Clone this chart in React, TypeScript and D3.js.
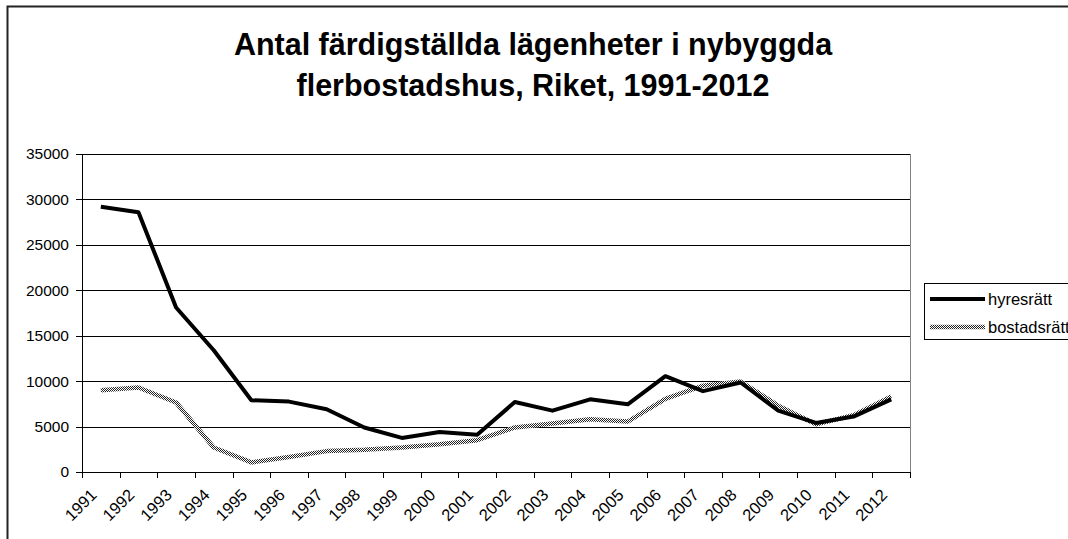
import React from "react";
import * as d3 from "d3";

const years = ["1991","1992","1993","1994","1995","1996","1997","1998","1999","2000","2001","2002","2003","2004","2005","2006","2007","2008","2009","2010","2011","2012"];
const hyresratt = [29200,28600,18100,13400,7900,7750,6900,4900,3750,4400,4100,7700,6750,8000,7450,10550,8900,9850,6750,5400,6100,8000];
const bostadsratt = [9000,9300,7650,2700,1050,1650,2300,2450,2700,3050,3500,4900,5350,5800,5550,8050,9500,9950,7300,5250,6250,8300];
const yTicks = [0,5000,10000,15000,20000,25000,30000,35000];
const titleLines = ["Antal färdigställda lägenheter i nybyggda", "flerbostadshus, Riket, 1991-2012"];
const seriesNames = ["hyresrätt", "bostadsrätt"];

const W = 1068, H = 539;
const plot = { left: 82, right: 910, top: 154, bottom: 472 };
const FONT = "'Liberation Sans', Arial, sans-serif";

export default function App() {
  const x = d3.scaleBand<string>().domain(years).range([plot.left, plot.right]).padding(0);
  const y = d3.scaleLinear().domain([0, 35000]).range([plot.bottom, plot.top]);
  const cx = (d: string) => (x(d) as number) + x.bandwidth() / 2;
  const line = d3.line<number>().x((_, i) => cx(years[i])).y((v) => y(v));
  const edges = years.map((d) => x(d) as number).concat([plot.right]);

  return (
    <div style={{ position: "fixed", left: 0, top: 0, width: W, height: H, overflow: "hidden", background: "#fff" }}>
      <svg width={W} height={H} style={{ display: "block" }} xmlns="http://www.w3.org/2000/svg">
        <defs>
          <pattern id="hatch" patternUnits="userSpaceOnUse" width="2" height="2">
            <rect width="2" height="2" fill="#ffffff" />
            <rect x="0" y="0" width="1" height="1" fill="#222" />
            <rect x="1" y="1" width="1" height="1" fill="#222" />
          </pattern>
        </defs>
        <rect x={0} y={0} width={W} height={H} fill="#fff" />
        {/* outer chart frame: only top and left edges are visible */}
        <path d={`M7.5,${H}V6.5H${W}`} fill="none" stroke="#222" strokeWidth={2} />
        {/* title */}
        {titleLines.map((t, i) => (
          <text key={t} x={533} y={55 + i * 41} textAnchor="middle" fontFamily={FONT} fontWeight="bold" fontSize={30.5} fill="#000">{t}</text>
        ))}
        {/* gridlines */}
        {yTicks.map((v) => (
          <line key={"g" + v} x1={plot.left} x2={plot.right} y1={Math.round(y(v)) + 0.5} y2={Math.round(y(v)) + 0.5} stroke="#000" strokeWidth={1} />
        ))}
        {/* plot right border */}
        <line x1={plot.right + 0.5} x2={plot.right + 0.5} y1={plot.top} y2={plot.bottom} stroke="#808080" strokeWidth={1} />
        {/* y axis */}
        <line x1={plot.left + 0.5} x2={plot.left + 0.5} y1={plot.top} y2={plot.bottom + 1} stroke="#000" strokeWidth={1} />
        {yTicks.map((v) => (
          <g key={"yt" + v}>
            <line x1={plot.left - 6} x2={plot.left} y1={Math.round(y(v)) + 0.5} y2={Math.round(y(v)) + 0.5} stroke="#000" />
            <text x={plot.left - 13} y={y(v)} dy="0.35em" textAnchor="end" fontFamily={FONT} fontSize={15.5} fill="#000">{v}</text>
          </g>
        ))}
        {/* x axis ticks */}
        {edges.map((e, i) => (
          <line key={"xt" + i} x1={Math.round(e) + 0.5} x2={Math.round(e) + 0.5} y1={plot.bottom} y2={plot.bottom + 6} stroke="#000" />
        ))}
        {years.map((d) => (
          <text key={"xl" + d} transform={`translate(${cx(d) - 3},${plot.bottom + 24}) rotate(-45)`} textAnchor="end" fontFamily={FONT} fontSize={16.5} fill="#000">{d}</text>
        ))}
        {/* series */}
        <path d={line(bostadsratt) || ""} fill="none" stroke="url(#hatch)" strokeWidth={4.5} strokeLinejoin="round" />
        <path d={line(hyresratt) || ""} fill="none" stroke="#000" strokeWidth={4} strokeLinejoin="round" />
        {/* legend */}
        <rect x={924.5} y={283.5} width={200} height={56} fill="#fff" stroke="#000" strokeWidth={1} />
        <line x1={930} x2={985} y1={299} y2={299} stroke="#000" strokeWidth={4} />
        <line x1={930} x2={985} y1={327} y2={327} stroke="url(#hatch)" strokeWidth={4.5} />
        {seriesNames.map((s, i) => (
          <text key={s} x={988} y={299 + i * 28} dy="0.35em" fontFamily={FONT} fontSize={16.5} fill="#000">{s}</text>
        ))}
      </svg>
    </div>
  );
}
